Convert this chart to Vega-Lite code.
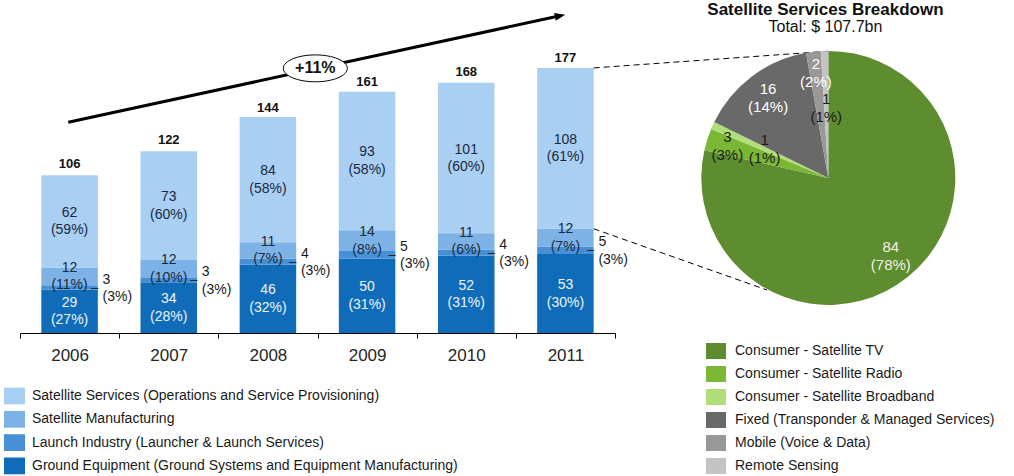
{
  "$schema": "https://vega.github.io/schema/vega-lite/v6.json",
  "width": 595,
  "height": 333,
  "autosize": {"type": "none"},
  "padding": {"left": 20, "top": 0, "right": 399, "bottom": 143},
  "config": {
    "font": "Liberation Sans",
    "view": {"stroke": null},
    "text": {"font": "Liberation Sans"},
    "legend": {"labelFont": "Liberation Sans"}
  },
  "datasets": {
    "bars": [
      {"year": "2006", "segment": "Ground Equipment (Ground Systems and Equipment Manufacturing)", "idx": 1, "value": 29, "pct": "27%"},
      {"year": "2006", "segment": "Launch Industry (Launcher & Launch Services)", "idx": 2, "value": 3, "pct": "3%"},
      {"year": "2006", "segment": "Satellite Manufacturing", "idx": 3, "value": 12, "pct": "11%"},
      {"year": "2006", "segment": "Satellite Services (Operations and Service Provisioning)", "idx": 4, "value": 62, "pct": "59%"},
      {"year": "2007", "segment": "Ground Equipment (Ground Systems and Equipment Manufacturing)", "idx": 1, "value": 34, "pct": "28%"},
      {"year": "2007", "segment": "Launch Industry (Launcher & Launch Services)", "idx": 2, "value": 3, "pct": "3%"},
      {"year": "2007", "segment": "Satellite Manufacturing", "idx": 3, "value": 12, "pct": "10%"},
      {"year": "2007", "segment": "Satellite Services (Operations and Service Provisioning)", "idx": 4, "value": 73, "pct": "60%"},
      {"year": "2008", "segment": "Ground Equipment (Ground Systems and Equipment Manufacturing)", "idx": 1, "value": 46, "pct": "32%"},
      {"year": "2008", "segment": "Launch Industry (Launcher & Launch Services)", "idx": 2, "value": 4, "pct": "3%"},
      {"year": "2008", "segment": "Satellite Manufacturing", "idx": 3, "value": 11, "pct": "7%"},
      {"year": "2008", "segment": "Satellite Services (Operations and Service Provisioning)", "idx": 4, "value": 84, "pct": "58%"},
      {"year": "2009", "segment": "Ground Equipment (Ground Systems and Equipment Manufacturing)", "idx": 1, "value": 50, "pct": "31%"},
      {"year": "2009", "segment": "Launch Industry (Launcher & Launch Services)", "idx": 2, "value": 5, "pct": "3%"},
      {"year": "2009", "segment": "Satellite Manufacturing", "idx": 3, "value": 14, "pct": "8%"},
      {"year": "2009", "segment": "Satellite Services (Operations and Service Provisioning)", "idx": 4, "value": 93, "pct": "58%"},
      {"year": "2010", "segment": "Ground Equipment (Ground Systems and Equipment Manufacturing)", "idx": 1, "value": 52, "pct": "31%"},
      {"year": "2010", "segment": "Launch Industry (Launcher & Launch Services)", "idx": 2, "value": 4, "pct": "3%"},
      {"year": "2010", "segment": "Satellite Manufacturing", "idx": 3, "value": 11, "pct": "6%"},
      {"year": "2010", "segment": "Satellite Services (Operations and Service Provisioning)", "idx": 4, "value": 101, "pct": "60%"},
      {"year": "2011", "segment": "Ground Equipment (Ground Systems and Equipment Manufacturing)", "idx": 1, "value": 53, "pct": "30%"},
      {"year": "2011", "segment": "Launch Industry (Launcher & Launch Services)", "idx": 2, "value": 5, "pct": "3%"},
      {"year": "2011", "segment": "Satellite Manufacturing", "idx": 3, "value": 12, "pct": "7%"},
      {"year": "2011", "segment": "Satellite Services (Operations and Service Provisioning)", "idx": 4, "value": 108, "pct": "61%"}
    ],
    "totals": [
      {"year": "2006", "total": 106},
      {"year": "2007", "total": 122},
      {"year": "2008", "total": 144},
      {"year": "2009", "total": 161},
      {"year": "2010", "total": 168},
      {"year": "2011", "total": 177}
    ],
    "pie": [
      {"service": "Consumer - Satellite TV", "idx": 1, "value": 84, "pct": "78%"},
      {"service": "Consumer - Satellite Radio", "idx": 2, "value": 3, "pct": "3%"},
      {"service": "Consumer - Satellite Broadband", "idx": 3, "value": 1, "pct": "1%"},
      {"service": "Fixed (Transponder & Managed Services)", "idx": 4, "value": 16, "pct": "14%"},
      {"service": "Mobile (Voice & Data)", "idx": 5, "value": 2, "pct": "2%"},
      {"service": "Remote Sensing", "idx": 6, "value": 1, "pct": "1%"}
    ],
    "one": [{}]
  },
  "resolve": {"scale": {"x": "independent", "color": "independent"}},
  "layer": [
    {
      "data": {"name": "bars"},
      "mark": {"type": "bar", "width": {"band": 0.57}},
      "encoding": {
        "x": {"field": "year", "type": "nominal", "scale": {"type": "band", "paddingInner": 0, "paddingOuter": 0},
              "axis": {"title": null, "labelAngle": 0, "tickBand": "extent", "domainColor": "#000", "tickColor": "#000", "tickSize": 5, "labelFontSize": 17, "labelColor": "#262626", "labelPadding": 9, "labelFont": "Liberation Sans", "grid": false}},
        "y": {"field": "value", "type": "quantitative", "stack": "zero", "scale": {"domain": [0, 223.6], "nice": false}, "axis": null},
        "color": {"field": "segment", "type": "nominal",
                  "scale": {"domain": ["Satellite Services (Operations and Service Provisioning)", "Satellite Manufacturing", "Launch Industry (Launcher & Launch Services)", "Ground Equipment (Ground Systems and Equipment Manufacturing)"],
                            "range": ["#A9CFF2", "#7DB2E6", "#4790D6", "#106CB8"]},
                  "legend": {"orient": "none", "legendX": -16, "legendY": 385.5, "title": null, "direction": "vertical", "symbolType": "M-1,-0.8H1V0.8H-1Z", "symbolSize": 441, "symbolStrokeWidth": 0, "labelFontSize": 14, "labelColor": "#1a1a1a", "labelOffset": 7, "rowPadding": 4.3, "padding": 0, "labelLimit": 700}},
        "order": {"field": "idx", "type": "quantitative"}
      }
    },
    {
      "data": {"name": "bars"},
      "transform": [
        {"stack": "value", "groupby": ["year"], "sort": [{"field": "idx", "order": "ascending"}], "as": ["v0", "v1"]},
        {"calculate": "(datum.v0 + datum.v1) / 2", "as": "vmid"},
        {"calculate": "datum.value + '\\n(' + datum.pct + ')'", "as": "label"},
        {"filter": "datum.idx != 2"}
      ],
      "mark": {"type": "text", "fontSize": 14, "lineBreak": "\n", "lineHeight": 17.5, "baseline": "middle", "align": "center", "dy": -8.5},
      "encoding": {
        "x": {"field": "year", "type": "nominal", "scale": {"type": "band", "paddingInner": 0, "paddingOuter": 0}, "axis": null},
        "y": {"field": "vmid", "type": "quantitative", "scale": {"domain": [0, 223.6], "nice": false}, "axis": null},
        "text": {"field": "label"},
        "color": {"condition": {"test": "datum.idx == 1", "value": "#EAF4FC"}, "value": "#1B2A40"}
      }
    },
    {
      "data": {"name": "bars"},
      "transform": [
        {"stack": "value", "groupby": ["year"], "sort": [{"field": "idx", "order": "ascending"}], "as": ["v0", "v1"]},
        {"calculate": "(datum.v0 + datum.v1) / 2", "as": "vmid"},
        {"calculate": "datum.value + '\\n(' + datum.pct + ')'", "as": "label"},
        {"filter": "datum.idx == 2"}
      ],
      "mark": {"type": "text", "fontSize": 14, "lineBreak": "\n", "lineHeight": 17.5, "baseline": "middle", "align": "left", "dx": 33, "dy": -8, "color": "#1a1a1a"},
      "encoding": {
        "x": {"field": "year", "type": "nominal", "scale": {"type": "band", "paddingInner": 0, "paddingOuter": 0}, "axis": null},
        "y": {"field": "vmid", "type": "quantitative", "scale": {"domain": [0, 223.6], "nice": false}, "axis": null},
        "text": {"field": "label"}
      }
    },
    {
      "data": {"name": "bars"},
      "transform": [
        {"stack": "value", "groupby": ["year"], "sort": [{"field": "idx", "order": "ascending"}], "as": ["v0", "v1"]},
        {"calculate": "(datum.v0 + datum.v1) / 2", "as": "vmid"},
        {"filter": "datum.idx == 2"}
      ],
      "mark": {"type": "text", "fontSize": 13, "baseline": "middle", "align": "center", "dx": 25, "color": "#1a1a1a"},
      "encoding": {
        "x": {"field": "year", "type": "nominal", "scale": {"type": "band", "paddingInner": 0, "paddingOuter": 0}, "axis": null},
        "y": {"field": "vmid", "type": "quantitative", "scale": {"domain": [0, 223.6], "nice": false}, "axis": null},
        "text": {"value": "–"}
      }
    },
    {
      "data": {"name": "totals"},
      "mark": {"type": "text", "fontSize": 13, "fontWeight": "bold", "baseline": "middle", "align": "center", "dy": -11, "color": "#111"},
      "encoding": {
        "x": {"field": "year", "type": "nominal", "scale": {"type": "band", "paddingInner": 0, "paddingOuter": 0}, "axis": null},
        "y": {"field": "total", "type": "quantitative", "scale": {"domain": [0, 223.6], "nice": false}, "axis": null},
        "text": {"field": "total", "type": "quantitative"}
      }
    },
    {
      "data": {"name": "one"},
      "mark": {"type": "rule", "color": "#000", "strokeWidth": 1, "strokeDash": [6, 4]},
      "encoding": {
        "x": {"datum": 2011.285, "type": "quantitative", "scale": {"domain": [2005.5, 2011.5], "nice": false, "zero": false}, "axis": null},
        "y": {"datum": 178, "type": "quantitative", "scale": {"domain": [0, 223.6], "nice": false}, "axis": null},
        "x2": {"datum": 2013.651},
        "y2": {"datum": 189.2}
      }
    },
    {
      "data": {"name": "one"},
      "mark": {"type": "rule", "color": "#000", "strokeWidth": 1, "strokeDash": [6, 4]},
      "encoding": {
        "x": {"datum": 2011.285, "type": "quantitative", "scale": {"domain": [2005.5, 2011.5], "nice": false, "zero": false}, "axis": null},
        "y": {"datum": 70, "type": "quantitative", "scale": {"domain": [0, 223.6], "nice": false}, "axis": null},
        "x2": {"datum": 2013.033},
        "y2": {"datum": 28.87}
      }
    },
    {
      "data": {"name": "one"},
      "mark": {"type": "rule", "color": "#000", "strokeWidth": 3},
      "encoding": {
        "x": {"datum": 2005.987, "type": "quantitative", "scale": {"domain": [2005.5, 2011.5], "nice": false, "zero": false}, "axis": null},
        "y": {"datum": 141.5, "type": "quantitative", "scale": {"domain": [0, 223.6], "nice": false}, "axis": null},
        "x2": {"datum": 2010.946},
        "y2": {"datum": 213.0}
      }
    },
    {
      "data": {"name": "one"},
      "mark": {"type": "point", "shape": "M1,0L-1,-0.75L-1,0.75Z", "size": 110, "filled": true, "color": "#000", "opacity": 1, "angle": 347.7},
      "encoding": {
        "x": {"datum": 2010.946, "type": "quantitative", "scale": {"domain": [2005.5, 2011.5], "nice": false, "zero": false}, "axis": null},
        "y": {"datum": 213.0, "type": "quantitative", "scale": {"domain": [0, 223.6], "nice": false}, "axis": null}
      }
    },
    {
      "data": {"name": "one"},
      "mark": {"type": "point", "shape": "M-1,0A1,0.42,0,1,1,1,0A1,0.42,0,1,1,-1,0Z", "size": 4096, "filled": true, "fill": "#fff", "stroke": "#000", "strokeWidth": 1, "opacity": 1},
      "encoding": {
        "x": {"datum": 2008.478, "type": "quantitative", "scale": {"domain": [2005.5, 2011.5], "nice": false, "zero": false}, "axis": null},
        "y": {"datum": 177.7, "type": "quantitative", "scale": {"domain": [0, 223.6], "nice": false}, "axis": null}
      }
    },
    {
      "data": {"name": "one"},
      "mark": {"type": "text", "fontSize": 16, "fontWeight": "bold", "baseline": "middle", "align": "center", "color": "#111"},
      "encoding": {
        "x": {"datum": 2008.478, "type": "quantitative", "scale": {"domain": [2005.5, 2011.5], "nice": false, "zero": false}, "axis": null},
        "y": {"datum": 177.7, "type": "quantitative", "scale": {"domain": [0, 223.6], "nice": false}, "axis": null},
        "text": {"value": "+11%"}
      }
    },
    {
      "data": {"name": "pie"},
      "mark": {"type": "arc", "outerRadius": 127},
      "encoding": {
        "x": {"datum": 2013.651, "type": "quantitative", "scale": {"domain": [2005.5, 2011.5], "nice": false, "zero": false}, "axis": null},
        "y": {"datum": 104.14, "type": "quantitative", "scale": {"domain": [0, 223.6], "nice": false}, "axis": null},
        "theta": {"field": "value", "type": "quantitative", "stack": true, "scale": {"domain": [0, 107]}},
        "order": {"field": "idx", "type": "quantitative"},
        "color": {"field": "service", "type": "nominal",
                  "scale": {"domain": ["Consumer - Satellite TV", "Consumer - Satellite Radio", "Consumer - Satellite Broadband", "Fixed (Transponder & Managed Services)", "Mobile (Voice & Data)", "Remote Sensing"],
                            "range": ["#5E8D2F", "#7AB735", "#B2DE79", "#696969", "#989898", "#C3C3C3"]},
                  "legend": {"orient": "none", "legendX": 686, "legendY": 341, "title": null, "direction": "vertical", "symbolType": "M-1,-0.8H1V0.8H-1Z", "symbolSize": 400, "symbolStrokeWidth": 0, "labelFontSize": 14, "labelColor": "#1a1a1a", "labelOffset": 9, "rowPadding": 5, "padding": 0, "labelLimit": 700}}
      }
    },
    {
      "data": {"name": "pie"},
      "transform": [
        {"stack": "value", "groupby": [], "sort": [{"field": "idx", "order": "ascending"}], "as": ["v0", "v1"]},
        {"calculate": "(datum.v0 + datum.v1) / 2", "as": "vmid"},
        {"calculate": "datum.value + '\\n(' + datum.pct + ')'", "as": "label"},
        {"filter": "datum.idx == 1 || datum.idx == 4"}
      ],
      "mark": {"type": "text", "radius": 100, "fontSize": 15, "lineBreak": "\n", "lineHeight": 18, "baseline": "middle", "align": "center", "dy": -9},
      "encoding": {
        "x": {"datum": 2013.651, "type": "quantitative", "scale": {"domain": [2005.5, 2011.5], "nice": false, "zero": false}, "axis": null},
        "y": {"datum": 104.14, "type": "quantitative", "scale": {"domain": [0, 223.6], "nice": false}, "axis": null},
        "theta": {"field": "vmid", "type": "quantitative", "scale": {"domain": [0, 107]}},
        "text": {"field": "label"},
        "color": {"condition": {"test": "datum.idx == 1", "value": "#F0F2E4"}, "value": "#FFFFFF"}
      }
    },
    {
      "data": {"name": "pie"},
      "transform": [
        {"stack": "value", "groupby": [], "sort": [{"field": "idx", "order": "ascending"}], "as": ["v0", "v1"]},
        {"calculate": "(datum.v0 + datum.v1) / 2", "as": "vmid"},
        {"calculate": "datum.value + '\\n(' + datum.pct + ')'", "as": "label"},
        {"filter": "datum.idx == 2 || datum.idx == 5"}
      ],
      "mark": {"type": "text", "radius": 106, "fontSize": 15, "lineBreak": "\n", "lineHeight": 18, "baseline": "middle", "align": "center", "dy": -9},
      "encoding": {
        "x": {"datum": 2013.651, "type": "quantitative", "scale": {"domain": [2005.5, 2011.5], "nice": false, "zero": false}, "axis": null},
        "y": {"datum": 104.14, "type": "quantitative", "scale": {"domain": [0, 223.6], "nice": false}, "axis": null},
        "theta": {"field": "vmid", "type": "quantitative", "scale": {"domain": [0, 107]}},
        "text": {"field": "label"},
        "color": {"condition": {"test": "datum.idx == 5", "value": "#FFFFFF"}, "value": "#1a1a1a"}
      }
    },
    {
      "data": {"name": "pie"},
      "transform": [
        {"stack": "value", "groupby": [], "sort": [{"field": "idx", "order": "ascending"}], "as": ["v0", "v1"]},
        {"calculate": "(datum.v0 + datum.v1) / 2", "as": "vmid"},
        {"calculate": "datum.value + '\\n(' + datum.pct + ')'", "as": "label"},
        {"filter": "datum.idx == 3 || datum.idx == 6"}
      ],
      "mark": {"type": "text", "radius": 70, "fontSize": 15, "lineBreak": "\n", "lineHeight": 18, "baseline": "middle", "align": "center", "dy": -9, "color": "#1a1a1a"},
      "encoding": {
        "x": {"datum": 2013.651, "type": "quantitative", "scale": {"domain": [2005.5, 2011.5], "nice": false, "zero": false}, "axis": null},
        "y": {"datum": 104.14, "type": "quantitative", "scale": {"domain": [0, 223.6], "nice": false}, "axis": null},
        "theta": {"field": "vmid", "type": "quantitative", "scale": {"domain": [0, 107]}},
        "text": {"field": "label"}
      }
    },
    {
      "data": {"name": "one"},
      "mark": {"type": "text", "fontSize": 17, "fontWeight": "bold", "baseline": "middle", "align": "center", "color": "#111"},
      "encoding": {
        "x": {"datum": 2013.622, "type": "quantitative", "scale": {"domain": [2005.5, 2011.5], "nice": false, "zero": false}, "axis": null},
        "y": {"datum": 217.2, "type": "quantitative", "scale": {"domain": [0, 223.6], "nice": false}, "axis": null},
        "text": {"value": "Satellite Services Breakdown"}
      }
    },
    {
      "data": {"name": "one"},
      "mark": {"type": "text", "fontSize": 16, "baseline": "middle", "align": "center", "color": "#111"},
      "encoding": {
        "x": {"datum": 2013.622, "type": "quantitative", "scale": {"domain": [2005.5, 2011.5], "nice": false, "zero": false}, "axis": null},
        "y": {"datum": 205.5, "type": "quantitative", "scale": {"domain": [0, 223.6], "nice": false}, "axis": null},
        "text": {"value": "Total: $ 107.7bn"}
      }
    }
  ]
}
